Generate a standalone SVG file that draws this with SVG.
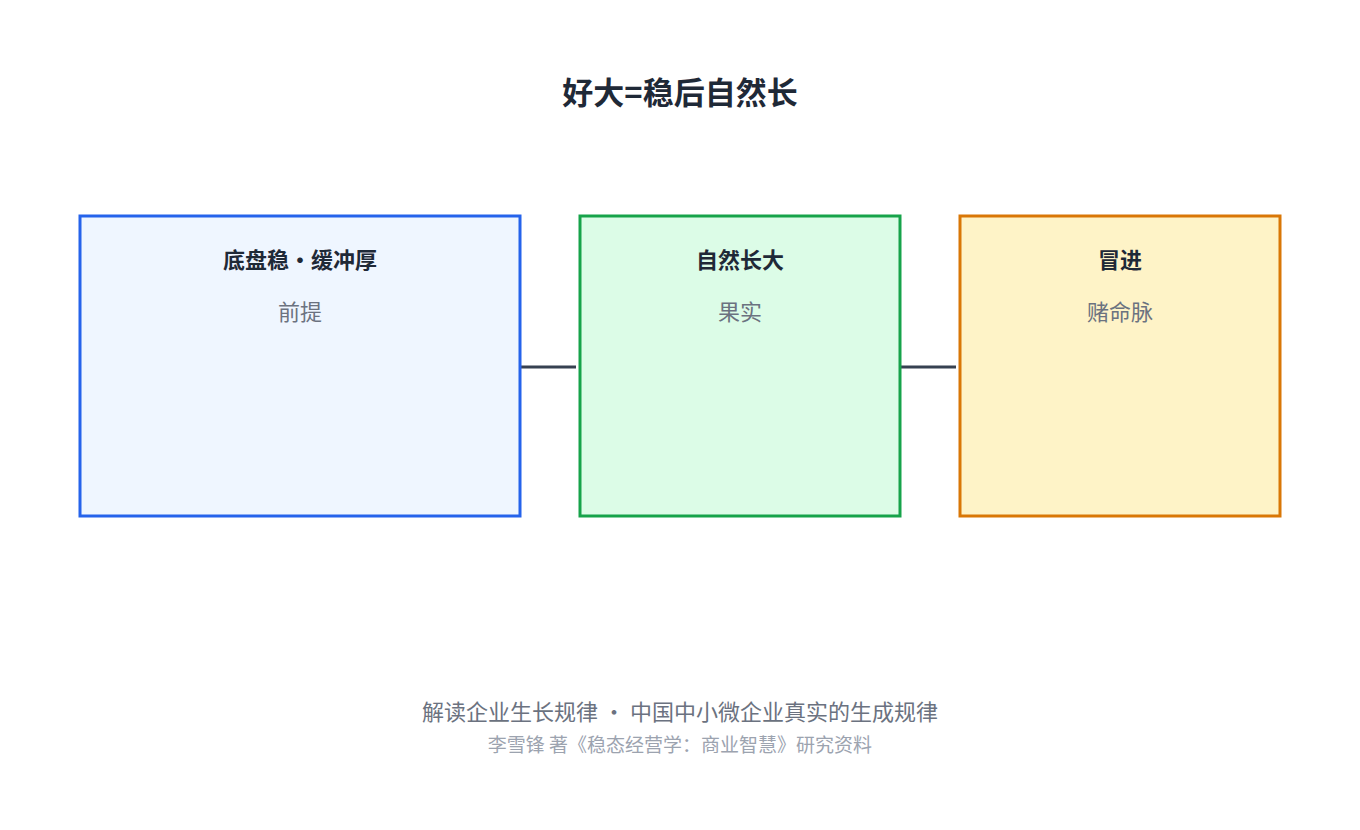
<svg xmlns="http://www.w3.org/2000/svg" width="1360" height="830" viewBox="0 0 1360 830">
<style>
text{font-family:"Noto Sans CJK SC","Liberation Sans",sans-serif;text-anchor:middle}
.t{font-size:22px;font-weight:bold;fill:#1f2937}
.s{font-size:22px;fill:#6b7280}
.c{stroke:#374151;stroke-width:3}
</style>
<rect width="1360" height="830" fill="#fff"/>
<text x="680" y="104" style="font-size:31px;font-weight:bold;fill:#1f2937">好大=稳后自然长</text>
<g id="connectors">
<line class="c" x1="521" y1="367" x2="576" y2="367"/>
<line class="c" x1="901" y1="367" x2="956" y2="367"/>
</g>
<g id="n1"><rect x="80" y="216" width="440" height="300" fill="#eff6ff" stroke="#2563eb" stroke-width="3"/>
<text class="t" x="300" y="268">底盘稳・缓冲厚</text><text class="s" x="300" y="320">前提</text></g>
<g id="n2"><rect x="580" y="216" width="320" height="300" fill="#dcfce7" stroke="#16a34a" stroke-width="3"/>
<text class="t" x="740" y="268">自然长大</text><text class="s" x="740" y="320">果实</text></g>
<g id="n3"><rect x="960" y="216" width="320" height="300" fill="#fef3c7" stroke="#d97706" stroke-width="3"/>
<text class="t" x="1120" y="268">冒进</text><text class="s" x="1120" y="320">赌命脉</text></g>
<text x="680" y="720" style="font-size:22px;fill:#6b7280">解读企业生长规律 ・ 中国中小微企业真实的生成规律</text>
<text x="680" y="752" style="font-size:19px;fill:#9ca3af">李雪锋 著《稳态经营学：商业智慧》研究资料</text>
</svg>
